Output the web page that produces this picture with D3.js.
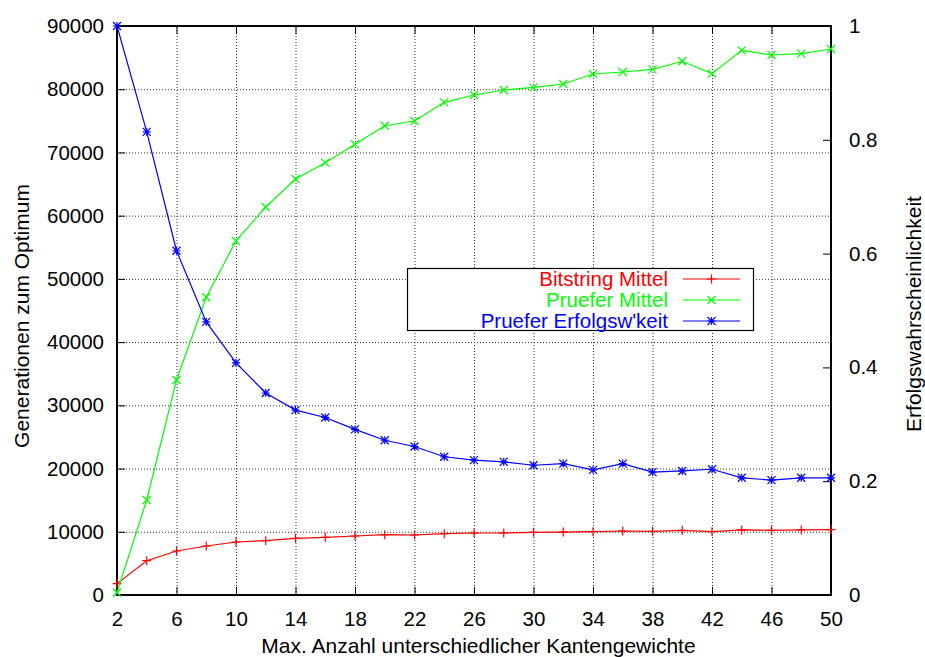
<!DOCTYPE html>
<html>
<head>
<meta charset="utf-8">
<script src="https://cdn.jsdelivr.net/npm/d3@7/dist/d3.min.js"></script>
<style>
  html, body { margin: 0; padding: 0; background: #fff; }
  svg { display: block; }
  text { font-family: "Liberation Sans", Arial, Helvetica, sans-serif; }
</style>
</head>
<body>
<svg id="chart" width="925" height="657"></svg>
<script>
// Maximale Anzahl unterschiedlicher Kantengewichte
const kantengewichte = [2, 4, 6, 8, 10, 12, 14, 16, 18, 20, 22, 24, 26, 28, 30, 32, 34, 36, 38, 40, 42, 44, 46, 48, 50];

// Mittlere Generationen bis zum Optimum (Bitstring-Kodierung)
const bitstringMittel = [1800, 5430, 6960, 7750, 8380, 8590, 8970, 9120, 9330, 9540, 9490, 9700, 9810, 9810, 9910, 9950, 10020, 10120, 10070, 10230, 10020, 10300, 10230, 10300, 10350];

// Mittlere Generationen bis zum Optimum (Pruefer-Kodierung)
const prueferMittel = [400, 15030, 34000, 47100, 56000, 61370, 65800, 68380, 71290, 74230, 74970, 77930, 79090, 79880, 80300, 80830, 82410, 82720, 83150, 84420, 82460, 86150, 85410, 85620, 86360];

// Erfolgswahrscheinlichkeit (Pruefer-Kodierung), rechte Achse
const prueferErfolg = [1.0, 0.814, 0.605, 0.480, 0.408, 0.355, 0.325, 0.312, 0.291, 0.272, 0.261, 0.243, 0.237, 0.234, 0.228, 0.231, 0.220, 0.231, 0.216, 0.218, 0.221, 0.206, 0.202, 0.206, 0.206];

// Achsenbeschriftungen
const xTicks = [2, 6, 10, 14, 18, 22, 26, 30, 34, 38, 42, 46, 50];
const yTicks = [0, 10000, 20000, 30000, 40000, 50000, 60000, 70000, 80000, 90000];
const y2Ticks = [0, 0.2, 0.4, 0.6, 0.8, 1];

const seriesNames = ["Bitstring Mittel", "Pruefer Mittel", "Pruefer Erfolgsw'keit"];
const seriesColors = ["#ff0000", "#00ff00", "#0000ff"];

const svg = d3.select("#chart");
const L = 117, R = 831, T = 26, B = 595;
const fs = 20.5;      // Teilstriche und Legende
const titleFs = 21;   // Achsentitel

const x = d3.scaleLinear().domain([2, 50]).range([L, R]);
const y = d3.scaleLinear().domain([0, 90000]).range([B, T]);
const y2 = d3.scaleLinear().domain([0, 1]).range([B, T]);

// Gitterlinien (gepunktet)
const grid = svg.append("g").attr("class", "grid");
grid.append("g")
  .attr("transform", `translate(0,${B})`)
  .call(d3.axisBottom(x).tickValues(xTicks).tickSize(-(B - T)).tickFormat(""))
  .call(g => g.select(".domain").remove());
grid.append("g")
  .attr("transform", `translate(${L},0)`)
  .call(d3.axisLeft(y).tickValues(yTicks).tickSize(-(R - L)).tickFormat(""))
  .call(g => g.select(".domain").remove());
grid.selectAll("line")
  .attr("stroke", "#333")
  .attr("stroke-width", 1)
  .attr("stroke-dasharray", "1,2");

// Achsen mit Teilstrichen nach innen
const tickLen = 8;
function styleAxis(g) {
  g.select(".domain").remove();
  g.selectAll("line").attr("stroke", "#000").attr("stroke-width", 1);
  g.selectAll("text").attr("font-size", fs).attr("fill", "#000");
}
svg.append("g")
  .attr("transform", `translate(0,${B})`)
  .call(d3.axisBottom(x).tickValues(xTicks).tickSizeInner(-tickLen).tickSizeOuter(0).tickPadding(16))
  .call(styleAxis);
svg.append("g")
  .attr("transform", `translate(0,${T})`)
  .call(d3.axisTop(x).tickValues(xTicks).tickSizeInner(-tickLen).tickSizeOuter(0).tickFormat(""))
  .call(styleAxis);
svg.append("g")
  .attr("transform", `translate(${L},0)`)
  .call(d3.axisLeft(y).tickValues(yTicks).tickSizeInner(-tickLen).tickSizeOuter(0).tickPadding(13).tickFormat(d3.format("d")))
  .call(styleAxis);
svg.append("g")
  .attr("transform", `translate(${R},0)`)
  .call(d3.axisRight(y2).tickValues(y2Ticks).tickSizeInner(-tickLen).tickSizeOuter(0).tickPadding(18).tickFormat(d => d3.format("~g")(d)))
  .call(styleAxis);

// Rahmen
svg.append("rect")
  .attr("x", L).attr("y", T).attr("width", R - L).attr("height", B - T)
  .attr("fill", "none").attr("stroke", "#000").attr("stroke-width", 2);

// Markierungen: Plus, Kreuz, Stern
function marker(type, s) {
  const p = d3.path();
  if (type === "plus" || type === "star") {
    p.moveTo(-s, 0); p.lineTo(s, 0);
    p.moveTo(0, -s); p.lineTo(0, s);
  }
  if (type === "cross" || type === "star") {
    p.moveTo(-s, -s); p.lineTo(s, s);
    p.moveTo(-s, s); p.lineTo(s, -s);
  }
  return p.toString();
}

const series = [
  { name: seriesNames[0], color: seriesColors[0], values: bitstringMittel, scale: y, type: "plus", size: 4.5 },
  { name: seriesNames[1], color: seriesColors[1], values: prueferMittel, scale: y, type: "cross", size: 4 },
  { name: seriesNames[2], color: seriesColors[2], values: prueferErfolg, scale: y2, type: "star", size: 4 }
];

const plot = svg.append("g");
series.forEach(s => {
  const line = d3.line().x((d, i) => x(kantengewichte[i])).y(d => s.scale(d));
  plot.append("path")
    .datum(s.values)
    .attr("d", line)
    .attr("fill", "none")
    .attr("stroke", s.color)
    .attr("stroke-width", 1.2);
  plot.selectAll(null)
    .data(s.values)
    .join("path")
    .attr("transform", (d, i) => `translate(${x(kantengewichte[i])},${s.scale(d)})`)
    .attr("d", marker(s.type, s.size))
    .attr("stroke", s.color)
    .attr("stroke-width", 1.2)
    .attr("fill", "none");
});

// Legende
const lg = svg.append("g");
lg.append("rect")
  .attr("x", 407.5).attr("y", 268.5).attr("width", 346).attr("height", 62)
  .attr("fill", "#fff").attr("stroke", "#000").attr("stroke-width", 1.2);
series.forEach((s, i) => {
  const yy = 279 + i * 21;
  lg.append("text")
    .attr("x", 668).attr("y", yy).attr("dy", "0.35em")
    .attr("text-anchor", "end").attr("font-size", fs)
    .attr("fill", s.color).text(s.name);
  lg.append("line")
    .attr("x1", 683).attr("x2", 740).attr("y1", yy).attr("y2", yy)
    .attr("stroke", s.color).attr("stroke-width", 1.2);
  lg.append("path")
    .attr("transform", `translate(711.5,${yy})`)
    .attr("d", marker(s.type, s.size))
    .attr("stroke", s.color).attr("stroke-width", 1.2).attr("fill", "none");
});

// Achsentitel
svg.append("text")
  .attr("x", 478.5).attr("y", 646).attr("dy", "0.35em")
  .attr("text-anchor", "middle").attr("font-size", titleFs)
  .text("Max. Anzahl unterschiedlicher Kantengewichte");
svg.append("text")
  .attr("transform", `translate(22,316) rotate(-90)`)
  .attr("dy", "0.35em")
  .attr("text-anchor", "middle").attr("font-size", titleFs)
  .text("Generationen zum Optimum");
svg.append("text")
  .attr("transform", `translate(914,314) rotate(-90)`)
  .attr("dy", "0.35em")
  .attr("text-anchor", "middle").attr("font-size", titleFs)
  .text("Erfolgswahrscheinlichkeit");
</script>
</body>
</html>
